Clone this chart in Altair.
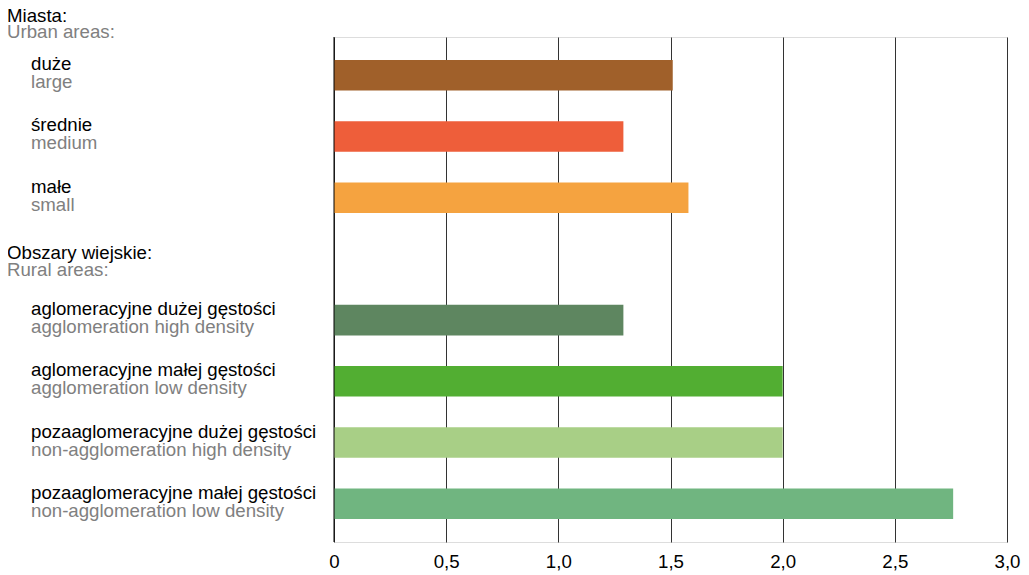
import altair as alt
import pandas as pd

# ---- data ----
urban_header = ["Miasta:", "Urban areas:"]
rural_header = ["Obszary wiejskie:", "Rural areas:"]
urban_pl = ["duże", "średnie", "małe"]
urban_en = ["large", "medium", "small"]
urban_values = [1.51, 1.29, 1.58]
rural_pl = [
    "aglomeracyjne dużej gęstości",
    "aglomeracyjne małej gęstości",
    "pozaaglomeracyjne dużej gęstości",
    "pozaaglomeracyjne małej gęstości",
]
rural_en = [
    "agglomeration high density",
    "agglomeration low density",
    "non-agglomeration high density",
    "non-agglomeration low density",
]
rural_values = [1.29, 2.0, 2.0, 2.76]
colors = ["#A0602A", "#EE5E3A", "#F5A340", "#5E8660", "#52AE32", "#A8CF86", "#70B580"]
x_ticks = [0, 0.5, 1.0, 1.5, 2.0, 2.5, 3.0]

items_pl = urban_pl + rural_pl
items_en = urban_en + rural_en
values = urban_values + rural_values
row_domain = urban_pl + [rural_header[0]] + rural_pl

bars_df = pd.DataFrame({"key": items_pl, "pl": items_pl, "en": items_en, "value": values})
rural_df = pd.DataFrame({"key": [rural_header[0]], "pl": [rural_header[0]], "en": [rural_header[1]]})
urban_df = pd.DataFrame({"pl": [urban_header[0]], "en": [urban_header[1]]})

FONT = "Liberation Sans"
FS = 18.67
GRAY = "#808080"

yscale = alt.Scale(domain=row_domain, paddingInner=0.5, paddingOuter=0.375)
ycode = alt.Y("key:N", scale=yscale, axis=None, sort=row_domain)

bars = alt.Chart(bars_df).mark_bar().encode(
    x=alt.X(
        "value:Q",
        scale=alt.Scale(domain=[0, 3], nice=False),
        axis=alt.Axis(
            values=x_ticks,
            title=None,
            grid=True,
            gridColor="#333333",
            gridOpacity=1,
            gridWidth=1,
            domain=False,
            ticks=False,
            labelFlush=False,
            labelPadding=10,
            labelFontSize=FS,
            labelColor="black",
            labelFont=FONT,
            labelExpr="datum.value == 0 ? '0' : (floor(datum.value) + ',' + round((datum.value - floor(datum.value)) * 10))",
        ),
    ),
    y=ycode,
    color=alt.Color("pl:N", scale=alt.Scale(domain=items_pl, range=colors), legend=None),
)

zero_rule = alt.Chart(pd.DataFrame({"v": [0]})).mark_rule(color="black", strokeWidth=1).encode(
    x=alt.X("v:Q", scale=alt.Scale(domain=[0, 3], nice=False))
)

pl_text = alt.Chart(bars_df).mark_text(
    align="left", baseline="alphabetic", dy=-5, fontSize=FS, font=FONT, color="black"
).encode(y=ycode, x=alt.value(-303), text="pl:N")

en_text = alt.Chart(bars_df).mark_text(
    align="left", baseline="alphabetic", dy=13, fontSize=FS, font=FONT, color=GRAY
).encode(y=ycode, x=alt.value(-303), text="en:N")

rural_pl_text = alt.Chart(rural_df).mark_text(
    align="left", baseline="alphabetic", dy=0, fontSize=FS, font=FONT, color="black"
).encode(y=ycode, x=alt.value(-327), text="pl:N")

rural_en_text = alt.Chart(rural_df).mark_text(
    align="left", baseline="alphabetic", dy=17, fontSize=FS, font=FONT, color=GRAY
).encode(y=ycode, x=alt.value(-327), text="en:N")

urban_pl_text = alt.Chart(urban_df).mark_text(
    align="left", baseline="alphabetic", fontSize=FS, font=FONT, color="black"
).encode(y=alt.value(-15.5), x=alt.value(-327), text="pl:N")

urban_en_text = alt.Chart(urban_df).mark_text(
    align="left", baseline="alphabetic", fontSize=FS, font=FONT, color=GRAY
).encode(y=alt.value(1.0), x=alt.value(-327), text="en:N")

chart = alt.layer(
    bars, zero_rule, pl_text, en_text, rural_pl_text, rural_en_text, urban_pl_text, urban_en_text
).properties(
    width=673,
    height=505,
    autosize=alt.AutoSizeParams(type="none"),
    padding={"left": 326, "top": 29, "right": 14, "bottom": 31},
).configure_view(stroke=None).configure(font=FONT)

chart.save("out.html", embed_options={"renderer": "svg", "actions": False})
